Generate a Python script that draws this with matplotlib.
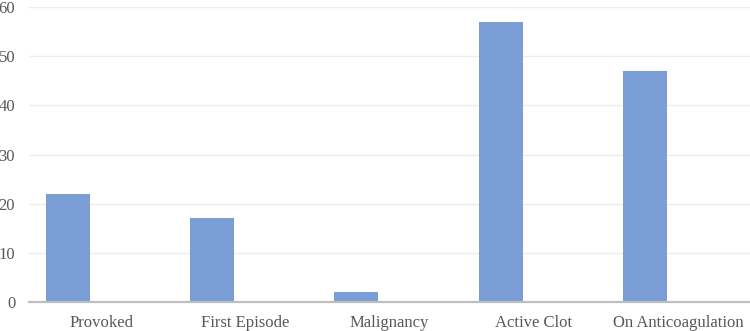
import matplotlib
matplotlib.use("Agg")
import matplotlib.pyplot as plt
import numpy as np

categories = ["Provoked", "First Episode", "Malignancy", "Active Clot", "On Anticoagulation"]
values = [22, 17, 2, 57, 47]
yticks = [0, 10, 20, 30, 40, 50, 60]

plt.rcParams['font.family'] = ['Liberation Serif', 'DejaVu Serif']

fig = plt.figure(figsize=(7.5, 3.31), dpi=100)
ax = fig.add_axes([0.0387, 0.0876, 0.9613, 0.8912])

x = np.arange(len(categories))
ax.bar(x - 0.23, values, width=0.305, color="#7b9dd5", zorder=3)

ax.set_xlim(-0.5, len(categories) - 0.5)
ax.set_ylim(0, 60)
ax.set_yticks(yticks)
ax.set_xticks(x)
ax.set_xticklabels(categories)
ax.yaxis.grid(True, color="#ececec", linewidth=1.0, zorder=0)
ax.set_axisbelow(True)
for s in ["top", "right", "left"]:
    ax.spines[s].set_visible(False)
ax.spines["bottom"].set_color("#bfbfbf")
ax.spines["bottom"].set_linewidth(1.6)
ax.spines["bottom"].set_zorder(4)
ax.tick_params(axis="both", length=0, labelsize=12, colors="#595959")
ax.tick_params(axis="x", pad=9)
ax.tick_params(axis="y", pad=10)

fig.savefig("out.png", dpi=100)
